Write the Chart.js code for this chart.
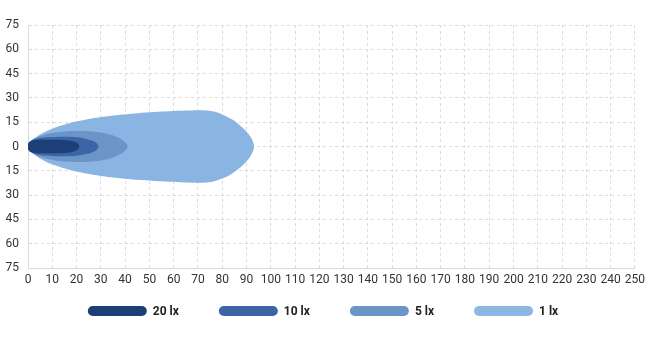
<!DOCTYPE html>
<html><head><meta charset="utf-8">
<script src="https://cdn.jsdelivr.net/npm/chart.js@4/dist/chart.umd.min.js"></script>
<style>html,body{margin:0;padding:0;background:#fff}#wrap{width:650px;height:359px}</style>
</head><body><div id="wrap"><canvas id="c" width="650" height="359"></canvas></div>
<script>
// ---- data ----
const seriesLabels = ['20 lx', '10 lx', '5 lx', '1 lx'];
const seriesColors = ['#1c3f77', '#3b65a7', '#6b94c7', 'rgba(128,175,223,0.92)'];
const legendColors = ['#1c3f77', '#3b65a7', '#6b94c7', '#8db7e2'];

const lux20X    = [-0.3, 0.3, 1.5, 4, 8, 12, 16, 18.5, 20.3, 21.2];
const lux20Half = [0, 2.4, 3.5, 4.1, 4.2, 4.2, 3.9, 3.2, 2.0, 0];

const lux10X    = [0, 0.8, 2.5, 5, 10, 15, 20, 24, 26.5, 28.3, 29];
const lux10Half = [0, 2.8, 4.3, 5.2, 5.8, 6.0, 5.7, 4.7, 3.5, 2.0, 0];

const lux5X     = [0, 1, 3, 6, 10, 15, 20, 25, 30, 34, 37, 39.5, 41];
const lux5Half  = [0, 3.0, 5.2, 7.0, 8.3, 9.2, 9.5, 9.4, 8.6, 7.2, 5.5, 3.3, 0];

const lux1X     = [0, 1.5, 3.6, 6, 10.5, 17, 24, 31, 38, 45, 52, 58, 65, 71, 76, 80, 84, 87, 89.5, 91.5, 92.6, 93.1];
const lux1Half  = [0, 3.5, 6.0, 8.3, 11.3, 14.3, 16.6, 18.3, 19.6, 20.6, 21.3, 21.8, 22.2, 22.4, 21.7, 19.8, 16.8, 13.5, 10.0, 6.3, 3.3, 0];

const xTickValues = [0,10,20,30,40,50,60,70,80,90,100,110,120,130,140,150,160,170,180,190,200,210,220,230,240,250];
const yTickValues = [-75,-60,-45,-30,-15,0,15,30,45,60,75];
const yTickLabels = ['75','60','45','30','15','0','15','30','45','60','75'];

// ---- build closed outlines ----
function outline(xs, hs) {
  const top = xs.map((x, i) => ({x: x, y: hs[i]}));
  const bottom = xs.slice().reverse().map((x, i) => ({x: x, y: -hs[xs.length - 1 - i]}));
  return top.concat(bottom.slice(1));
}
const shapes = [
  outline(lux20X, lux20Half),
  outline(lux10X, lux10Half),
  outline(lux5X, lux5Half),
  outline(lux1X, lux1Half)
];

const FONT = "Roboto, 'Liberation Sans', sans-serif";

const legendPlugin = {
  id: 'pillLegend',
  afterDraw(chart) {
    const ctx = chart.ctx;
    const pillW = 59, pillH = 10, gapText = 6, gapItem = 40, cy = 311, centerX = 323;
    ctx.save();
    ctx.font = "bold 12px " + FONT;
    const items = chart.data.datasets.map((d, i) => ({
      text: d.label, color: legendColors[i], tw: ctx.measureText(d.label).width
    }));
    let total = 0;
    items.forEach((it, i) => { total += pillW + gapText + it.tw + (i < items.length - 1 ? gapItem : 0); });
    let x = centerX - total / 2;
    items.forEach(it => {
      ctx.fillStyle = it.color;
      ctx.beginPath();
      ctx.roundRect(x, cy - pillH / 2, pillW, pillH, pillH / 2);
      ctx.fill();
      ctx.fillStyle = '#222';
      ctx.textBaseline = 'middle';
      ctx.textAlign = 'left';
      ctx.fillText(it.text, x + pillW + gapText, cy + 0.5);
      x += pillW + gapText + it.tw + gapItem;
    });
    ctx.restore();
  }
};

new Chart(document.getElementById('c'), {
  type: 'scatter',
  data: {
    datasets: shapes.map((pts, i) => ({
      label: seriesLabels[i],
      data: pts,
      showLine: true,
      fill: 'shape',
      backgroundColor: seriesColors[i],
      borderColor: 'rgba(0,0,0,0)',
      borderWidth: 0,
      pointRadius: 0,
      pointHoverRadius: 0,
      tension: 0.4
    }))
  },
  options: {
    responsive: false,
    animation: false,
    layout: {padding: {top: 25, right: 14, left: 0, bottom: 71}},
    plugins: {legend: {display: false}, tooltip: {enabled: false}},
    scales: {
      x: {
        type: 'linear', min: 0, max: 250,
        afterBuildTicks: s => { s.ticks = xTickValues.map(v => ({value: v})); },
        afterFit: s => { s.height = 20; },
        grid: {color: '#dcdcdc', lineWidth: 1, drawTicks: false},
        border: {display: true, color: '#dcdcdc', dash: [3, 3]},
        ticks: {padding: 5, color: '#333', font: {family: FONT, size: 12}, maxRotation: 0, autoSkip: false}
      },
      y: {
        type: 'linear', min: -75, max: 75,
        afterBuildTicks: s => { s.ticks = yTickValues.map(v => ({value: v})); },
        afterFit: s => { s.width = 28; },
        grid: {color: '#dcdcdc', lineWidth: 1, drawTicks: false},
        border: {display: true, color: '#dcdcdc', dash: [3, 3]},
        ticks: {padding: 9, color: '#333', font: {family: FONT, size: 12},
          callback: (v) => yTickLabels[yTickValues.indexOf(v)]}
      }
    }
  },
  plugins: [legendPlugin]
});
</script>
</body></html>
